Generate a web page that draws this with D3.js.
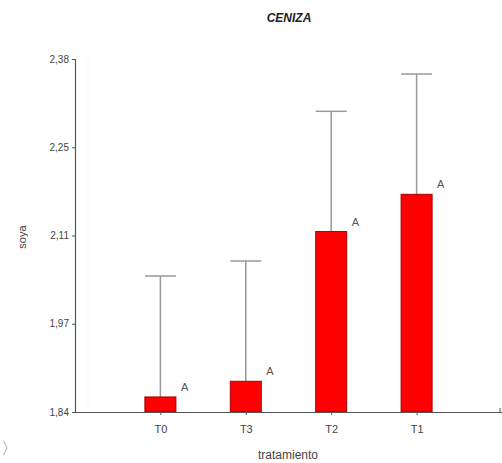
<!DOCTYPE html>
<html>
<head>
<meta charset="utf-8">
<script src="https://cdn.jsdelivr.net/npm/d3@7"></script>
<style>
  body { margin: 0; background: #fff; }
  text { font-family: "Liberation Sans", Arial, sans-serif; }
</style>
</head>
<body>
<svg id="chart" width="502" height="463"></svg>
<script>
const categories = ["T0", "T3", "T2", "T1"];
const means = [1.863, 1.887, 2.116, 2.173];
const upper = [2.048, 2.071, 2.300, 2.357];
const letters = ["A", "A", "A", "A"];
const yTicks = [1.84, 1.975, 2.11, 2.245, 2.38];
const yTickLabels = ["1,84", "1,97", "2,11", "2,25", "2,38"];

const svg = d3.select("#chart");
const plotLeft = 75, plotRight = 502, plotTop = 59, plotBottom = 412;

const x = d3.scalePoint().domain(categories).range([plotLeft, plotRight]).padding(1);
const y = d3.scaleLinear().domain([1.84, 2.38]).range([plotBottom, plotTop]);
const barWidth = 31;
const grey = "#555";

// faint frame line
svg.append("line")
  .attr("x1", 88).attr("x2", 88).attr("y1", plotTop).attr("y2", plotBottom)
  .attr("stroke", "#f6f6f6");

// error bars (upper only)
const eb = svg.append("g").attr("stroke", "#999").attr("stroke-width", 1.5);
categories.forEach((c, i) => {
  const cx = x(c);
  eb.append("line").attr("x1", cx).attr("x2", cx)
    .attr("y1", y(means[i])).attr("y2", y(upper[i]));
  eb.append("line").attr("x1", cx - barWidth / 2).attr("x2", cx + barWidth / 2)
    .attr("y1", y(upper[i])).attr("y2", y(upper[i]));
});

// bars
svg.append("g")
  .selectAll("rect")
  .data(categories)
  .enter()
  .append("rect")
  .attr("x", (d) => x(d) - barWidth / 2)
  .attr("y", (d, i) => y(means[i]))
  .attr("width", barWidth)
  .attr("height", (d, i) => plotBottom - y(means[i]))
  .attr("fill", "#ff0000")
  .attr("stroke", "#a00000")
  .attr("stroke-width", 1);

// letters
svg.append("g")
  .selectAll("text")
  .data(categories)
  .enter()
  .append("text")
  .attr("x", (d) => x(d) + barWidth / 2 + 5)
  .attr("y", (d, i) => y(means[i]) - 6)
  .attr("font-size", 11)
  .attr("fill", grey)
  .text((d, i) => letters[i]);

// y axis
const yAxis = d3.axisLeft(y)
  .tickValues(yTicks)
  .tickSize(3)
  .tickFormat((d, i) => yTickLabels[i]);

const gy = svg.append("g")
  .attr("transform", `translate(${plotLeft},0)`)
  .call(yAxis);
gy.select(".domain").attr("stroke", grey).attr("stroke-width", 1.2);
gy.selectAll(".tick line").attr("stroke", grey);
gy.selectAll(".tick text").attr("font-size", 10).attr("fill", "#444")
  .attr("font-family", "Liberation Sans, Arial, sans-serif");

// x axis
const xAxis = d3.axisBottom(x).tickSize(3).tickSizeOuter(0);
const gx = svg.append("g")
  .attr("transform", `translate(0,${plotBottom})`)
  .call(xAxis);
gx.select(".domain").attr("stroke", grey).attr("stroke-width", 1.2);
gx.selectAll(".tick line").attr("stroke", grey);
gx.selectAll(".tick text").attr("font-size", 11).attr("fill", "#444")
  .attr("dy", "1.35em")
  .attr("font-family", "Liberation Sans, Arial, sans-serif");
gx.append("line").attr("x1", plotRight - 2).attr("x2", plotRight - 2)
  .attr("y1", 0).attr("y2", -4).attr("stroke", grey);

// title
svg.append("text")
  .attr("x", 289).attr("y", 22)
  .attr("text-anchor", "middle")
  .attr("font-size", 12)
  .attr("font-weight", "bold")
  .attr("font-style", "italic")
  .attr("fill", "#222")
  .text("CENIZA");

// axis titles
svg.append("text")
  .attr("transform", "translate(26,237) rotate(-90)")
  .attr("text-anchor", "middle")
  .attr("font-size", 11)
  .attr("fill", "#444")
  .text("soya");

svg.append("text")
  .attr("x", 288).attr("y", 459)
  .attr("text-anchor", "middle")
  .attr("font-size", 12)
  .attr("fill", "#444")
  .text("tratamiento");

svg.append("text")
  .attr("x", 1).attr("y", 454)
  .attr("font-size", 17)
  .attr("fill", "#888")
  .text("〉");
</script>
</body>
</html>
